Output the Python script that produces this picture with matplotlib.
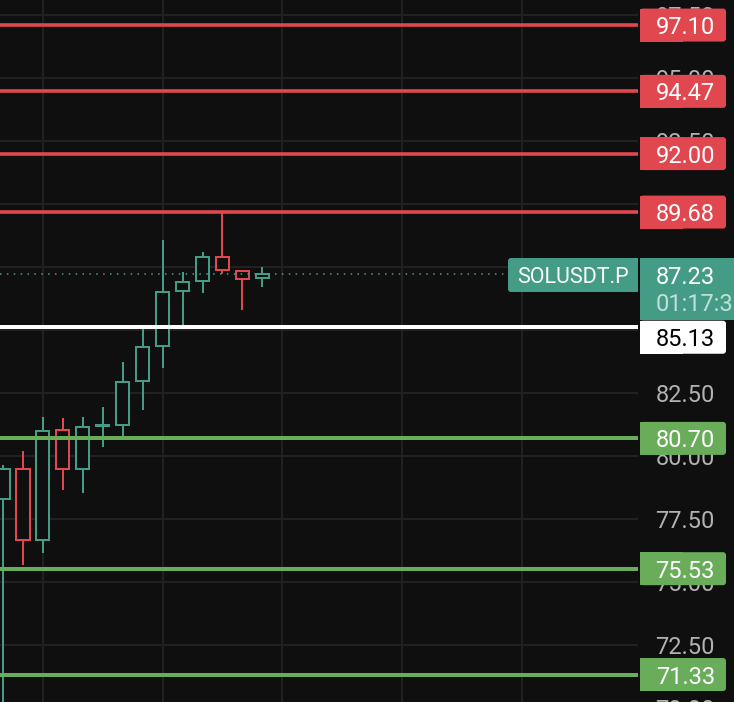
import numpy as np
import matplotlib
matplotlib.use("Agg")
import matplotlib.pyplot as plt
from matplotlib.patches import Rectangle, FancyBboxPatch

plt.rcParams["font.family"] = ["Roboto", "DejaVu Sans"]

# candle data
opens = [78.28, 79.47, 76.67, 81.04, 79.47, 81.20, 81.24, 82.98, 84.38, 86.55, 86.94, 87.91, 87.35, 87.05]
highs = [79.64, 80.20, 81.55, 81.51, 81.55, 81.94, 83.72, 85.12, 88.57, 87.30, 88.08, 89.68, 87.35, 87.50]
lows = [68.00, 75.67, 76.16, 78.66, 78.54, 80.37, 80.74, 81.81, 83.50, 85.09, 86.48, 87.22, 85.79, 86.72]
closes = [79.47, 76.67, 81.00, 79.47, 81.16, 81.24, 82.95, 84.34, 86.52, 86.92, 87.91, 87.37, 87.02, 87.23]

red_levels = [97.10, 94.47, 92.00, 89.68]
white_level = 85.13
green_levels = [80.70, 75.53, 71.33]
last_price = 87.23
ticker = "SOLUSDT.P"
countdown = "01:17:35"
price_ticks = [70.0, 72.5, 75.0, 77.5, 80.0, 82.5, 85.0, 87.5, 90.0, 92.5, 95.0, 97.5]
time_grid = [2, 8, 14, 20, 26]

BG = "#0f0f0f"
TEAL = "#459c86"
RED = "#e0474f"
GREEN = "#69ad5b"
GRID = "#212121"

W, H = 734, 702
PLOT_W = 638
STEP = 19.95
YLIM = (70.24, 98.095)

fig = plt.figure(figsize=(W / 100, H / 100), dpi=100, facecolor=BG)
ax = fig.add_axes([0, 0, PLOT_W / W, 1])
ax.set_facecolor(BG)
ax.set_yticks(price_ticks)
ax.set_xticks(time_grid)
ax.set_xlim(-3 / STEP, (PLOT_W - 3) / STEP)
ax.set_ylim(*YLIM)
ax.grid(True, color=GRID, lw=1.44)
ax.tick_params(length=0, labelleft=False, labelbottom=False)
for s in ax.spines.values():
    s.set_visible(False)

bw = 0.66
for i, (o, h, l, c) in enumerate(zip(opens, highs, lows, closes)):
    col = TEAL if c >= o else RED
    top, bot = max(o, c), min(o, c)
    ax.plot([i, i], [top, h], color=col, lw=1.44, zorder=2, solid_capstyle="butt")
    ax.plot([i, i], [l, bot], color=col, lw=1.44, zorder=2, solid_capstyle="butt")
    ax.add_patch(Rectangle((i - bw / 2, bot), bw, top - bot, facecolor=BG,
                           edgecolor=col, lw=1.44, zorder=3))

for v in red_levels:
    ax.axhline(v, color=RED, lw=2.6, zorder=5)
ax.axhline(white_level, color="white", lw=2.88, zorder=5)
for v in green_levels:
    ax.axhline(v, color=GREEN, lw=2.88, zorder=5)
ax.set_ylim(*YLIM)

# overlay in pixel x / price y for the price scale labels
ov = fig.add_axes([0, 0, 1, 1], zorder=10)
ov.set_xlim(0, W)
ov.set_ylim(*YLIM)
ov.axis("off")
ov.patch.set_alpha(0)
px_per_unit = 25.2
asp = 1 / px_per_unit
FS = 17

ov.plot([0, 506], [last_price, last_price], color=TEAL, lw=1.1,
        linestyle=(0, (1, 3.5)), zorder=1)

for t in price_ticks:
    ov.text(715, t, f"{t:.2f}", color="#b2b2b2", fontsize=FS, ha="right",
            va="center_baseline", zorder=2)


def label_box(x0, x1, ytop_px, ybot_px, yc, color, round_left=False):
    h = (ybot_px - ytop_px) * asp
    y0 = yc - (ybot_px - ytop_px) / 2 * asp
    ov.add_patch(FancyBboxPatch((x0, y0), x1 - x0, h,
                                boxstyle="round,pad=0,rounding_size=3",
                                mutation_aspect=asp, facecolor=color,
                                edgecolor="none", zorder=3))
    if round_left:
        ov.add_patch(Rectangle(((x0 + x1) / 2, y0), (x1 - x0) / 2, h,
                               facecolor=color, edgecolor="none", zorder=3))
    else:
        ov.add_patch(Rectangle((x0, y0), (x1 - x0) / 2, h,
                               facecolor=color, edgecolor="none", zorder=3))


for v in red_levels:
    label_box(640, 726, 0, 33, v, RED)
    ov.text(715, v, f"{v:.2f}", color="white", fontsize=FS, ha="right",
            va="center_baseline", zorder=4)

# the 85.13 tag is pushed down below the last-price tag
wy = white_level - 10.5 * asp
label_box(640, 726, 0, 33, wy, "white")
ov.text(715, wy, f"{white_level:.2f}", color="black", fontsize=FS,
        ha="right", va="center_baseline", zorder=4)

for v in green_levels:
    label_box(640, 726, 0, 33, v, GREEN)
    ov.text(715, v, f"{v:.2f}", color="white", fontsize=FS, ha="right",
            va="center_baseline", zorder=4)

# last price box (two lines) and ticker tag
yc = last_price - 1.2 * asp
ov.add_patch(Rectangle((640, yc - 45 * asp), 100, 62 * asp, facecolor=TEAL,
                       edgecolor="none", zorder=3))
ov.text(656, yc, f"{last_price:.2f}", color="white", fontsize=FS, ha="left",
        va="center_baseline", zorder=4)
ov.text(656, yc - 27 * asp, countdown, color="#bfe0d7", fontsize=FS, ha="left",
        va="center_baseline", zorder=4)

label_box(508, 638, 0, 34, yc, TEAL, round_left=True)
ov.text(573, yc, ticker, color="white", fontsize=FS - 1.5, ha="center",
        va="center_baseline", zorder=4)

fig.savefig("out.png", dpi=100, facecolor=BG)
